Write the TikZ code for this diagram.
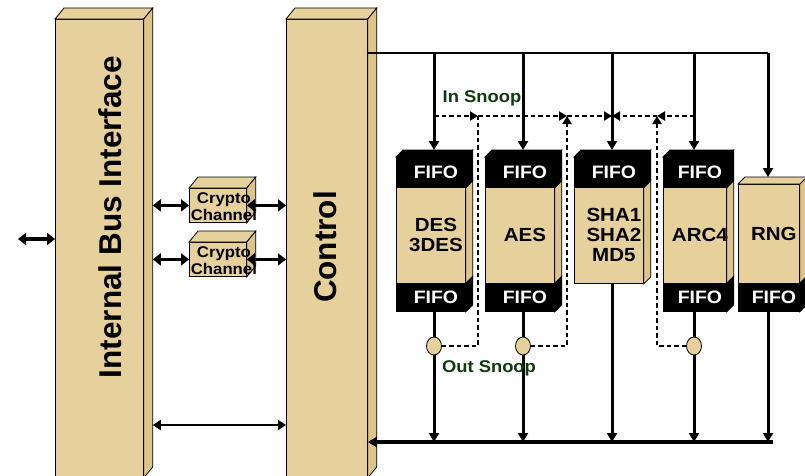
\documentclass[tikz,border=0pt]{standalone}
\usepackage{fontspec}
\setmainfont{Liberation Sans}
\newfontfamily\widesans{Liberation Sans}[FakeStretch=1.08]
\usetikzlibrary{arrows.meta,positioning,shapes.geometric,calc}
\definecolor{tanfill}{HTML}{E6D19C}
\definecolor{tanside}{HTML}{DCC48C}
\definecolor{snoopgreen}{HTML}{0F3A0F}

\newcommand{\titlefont}{\fontsize{31.5}{31.5}\selectfont\bfseries}
\newcommand{\fifofont}{\widesans\fontsize{18}{18}\selectfont\bfseries}
\newcommand{\engfont}{\widesans\fontsize{19}{20}\selectfont\bfseries}
\newcommand{\chanfont}{\widesans\fontsize{15.5}{17}\selectfont\bfseries}
\newcommand{\snoopfont}{\widesans\fontsize{17}{17}\selectfont\bfseries}

% top and side faces of a block, from its front face node
\newcommand{\topface}[4]{%
  \filldraw[face, fill=#4] (#1.north west) -- ++(#2,-#3) -- ($(#1.north east)+(#2,-#3)$) -- (#1.north east) -- cycle;}
\newcommand{\sideface}[4]{%
  \filldraw[face, fill=#4] (#1.north east) -- ++(#2,-#3) -- ($(#1.south east)+(#2,-#3)$) -- (#1.south east) -- cycle;}

\begin{document}
\begin{tikzpicture}[x=1pt, y=-1pt,
  face/.style={draw=black, line width=0.8pt, fill=tanfill},
  slab/.style={face, inner sep=0pt, anchor=north west},
  fifo/.style={slab, fill=black, minimum height=30},
  fifolab/.style={text=white, font=\fifofont, inner sep=0pt},
  engine/.style={font=\engfont, align=center, inner sep=0pt},
  title/.style={font=\titlefont, inner sep=0pt},
  chan/.style={font=\chanfont, align=center, inner sep=0pt},
  snooplab/.style={font=\snoopfont, text=snoopgreen, inner sep=0pt},
  duplex/.style={line width=3.6pt, {Triangle[length=8pt,width=12pt]}-{Triangle[length=8pt,width=12pt]}},
  duplexthin/.style={line width=2.4pt, {Triangle[length=8pt,width=10pt]}-{Triangle[length=8pt,width=10pt]}},
  busline/.style={line width=2.4pt},
  busback/.style={line width=3.4pt, -{Triangle[length=9pt,width=10pt]}},
  drop/.style={line width=3pt, -{Triangle[length=9pt,width=10pt]}},
  snoop/.style={line width=2pt, dash pattern=on 4.5pt off 3pt},
  snooparrow/.style={snoop, -{Triangle[length=8pt,width=9pt]}},
  tap/.style={ellipse, draw=black, line width=0.8pt, fill=tanfill, minimum width=15pt, minimum height=18pt, inner sep=0pt}]
\clip (0,0) rectangle (805,475);

% bus interface and control
\node[slab, minimum width=88, minimum height=458] (ibi) at (55,19) {};
\topface{ibi}{9}{11}{tanfill} \sideface{ibi}{9}{11}{tanside}
\node[title, rotate=90] (ibi-lab) at (110,217) {Internal Bus Interface};
\node[slab, minimum width=81, minimum height=458] (ctrl) at (286,19) {};
\topface{ctrl}{9}{11}{tanfill} \sideface{ctrl}{9}{11}{tanside}
\node[title, rotate=90] (ctrl-lab) at (325,247) {Control};

% crypto channels
\foreach \i/\y in {1/188, 2/242}{
  \node[slab, minimum width=57, minimum height=34] (cc\i) at (189,\y) {};
  \topface{cc\i}{9}{11}{tanfill} \sideface{cc\i}{9}{11}{tanside}
  \node[chan] (cc\i-lab) at ([xshift=6pt,yshift=-1pt]cc\i.center) {Crypto\\Channel};
}

% execution units
\foreach \nm/\x/\w/\cx/\by/\tp/\bt/\lab in {
  des/396/69/434/187/1/1/{DES\\3DES},
  aes/485/69/523/187/1/1/AES,
  sha/574/69/612/187/1/0/{SHA1\\SHA2\\MD5},
  arc/663/63/694/187/1/1/ARC4,
  rng/738/61/768/184/0/1/RNG}{
  \node[slab, minimum width=\w, minimum height={283-\by}] (\nm-body) at (\x,\by) {};
  \sideface{\nm-body}{7}{7}{tanside}
  \node[engine] (\nm-lab) at ([xshift=5pt]\nm-body.center) {\lab};
  \ifnum\tp=1
    \node[fifo, minimum width=\w] (\nm-top) at (\x,{\by-30}) {};
    \topface{\nm-top}{7}{7}{black} \sideface{\nm-top}{7}{7}{black}
    \node[fifolab] (\nm-toplab) at ([xshift=5pt]\nm-top.center) {FIFO};
  \else
    \topface{\nm-body}{7}{7}{tanfill}
  \fi
  \ifnum\bt=1
    \node[fifo, minimum width=\w, minimum height=28] (\nm-bot) at (\x,283) {};
    \sideface{\nm-bot}{7}{7}{black}
    \node[fifolab] (\nm-botlab) at ([xshift=5pt]\nm-bot.center) {FIFO};
  \fi
  \coordinate (\nm-in) at (\cx,{\by-7-30*\tp});
  \coordinate (\nm-out) at (\cx,{283+28*\bt});
}

% links on the left
\coordinate (ibiR) at ([xshift=9pt]ibi.east);
\coordinate (ext) at (18,239);
\coordinate (lowlink) at (200,425);
\draw[duplex] (ext) -- (ibi.west |- ext);
\foreach \i in {1,2}{
  \draw[duplex] (ibiR |- cc\i.west) -- (cc\i.west);
  \draw[duplex] (cc\i.east) -- (ctrl.west |- cc\i.east);
}
\draw[duplexthin] (ibiR |- lowlink) -- (ctrl.west |- lowlink);

% input and output buses
\coordinate (busT) at (0,53);
\coordinate (busB) at (0,442);
\draw[busline] (ctrl.east |- busT) -- (rng-in |- busT);
\foreach \nm in {des,aes,sha,arc,rng}{
  \draw[drop] (\nm-in |- busT) -- (\nm-in);
  \draw[drop] (\nm-out) -- (\nm-out |- busB);
}
\path (rng-out |- busB) ++(5,0) coordinate (busEnd);
\draw[busback] (busEnd) -- (ctrl.east |- busB);

% snooping
\coordinate (snoopT) at (0,116);
\coordinate (snoopB) at (0,346);
\coordinate (j1) at (478,0);
\coordinate (j2) at (567,0);
\coordinate (j3) at (657,0);
\foreach \nm in {des,aes,arc}
  \node[tap] (\nm-tap) at (\nm-out |- snoopB) {};
\draw[snooparrow] (des-in |- snoopT) -- (j1 |- snoopT);
\draw[snooparrow] (j1 |- snoopT) -- (j2 |- snoopT);
\draw[snooparrow] (j2 |- snoopT) -- (sha-in |- snoopT);
\draw[snooparrow] (arc-in |- snoopT) -- (j3 |- snoopT);
\draw[snooparrow] (j3 |- snoopT) -- (sha-in |- snoopT);
\draw[snoop] (des-tap.east) -| (j1 |- snoopT);
\draw[snooparrow] (aes-tap.east) -| (j2 |- snoopT);
\draw[snooparrow] (arc-tap.west) -| (j3 |- snoopT);
\node[snooplab] (insnoop) at (482,98) {In Snoop};
\node[snooplab] (outsnoop) at (489,368) {Out Snoop};
\end{tikzpicture}
\end{document}
